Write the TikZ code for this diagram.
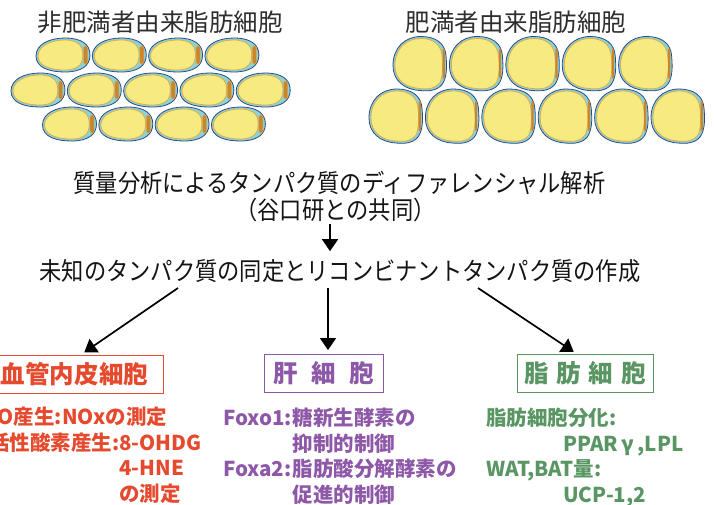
\documentclass[tikz,border=0pt]{standalone}
\usepackage{fontspec}
\usetikzlibrary{arrows.meta,positioning,calc}
\setmainfont{Noto Sans CJK JP}
\newfontfamily\jpnarrow[FakeStretch=0.89]{Noto Sans CJK JP}

\definecolor{cellline}{HTML}{2E4A86}
\definecolor{cellrim}{HTML}{8CD3D4}
\definecolor{yolk}{HTML}{F6EA80}
\definecolor{yolkline}{HTML}{E0A846}
\definecolor{nucleus}{HTML}{C9862C}
\definecolor{endored}{HTML}{E64A2E}
\definecolor{liverpurple}{HTML}{8E58A8}
\definecolor{adipogreen}{HTML}{5A9664}

\tikzset{
  % small (lean) fat cell
  lean/.pic={
    \filldraw[draw=cellline, fill=cellrim, line width=.8pt]
      (-27,1) .. controls (-27,-11) and (-13,-17) .. (2,-17) .. controls (18,-17) and (27,-11) .. (27,0)
      .. controls (27,11) and (18,17) .. (2,17) .. controls (-13,17) and (-27,13) .. (-27,1) -- cycle;
    \filldraw[draw=yolkline, fill=yolk, line width=.7pt]
      (-25,1) .. controls (-25,-9) and (-12,-15) .. (2,-15) .. controls (12,-15) and (18,-11) .. (19,-6)
      .. controls (20,-2) and (20,2) .. (19,6) .. controls (18,11) and (12,15) .. (2,15)
      .. controls (-12,15) and (-25,11) .. (-25,1) -- cycle;
    \filldraw[draw=yolkline, fill=nucleus, rounded corners=2pt] (20.5,-9) rectangle (24.5,9);
  },
  % large (obese) fat cell
  plump/.pic={
    \filldraw[draw=cellline, fill=cellrim, line width=.8pt]
      (-27,2) .. controls (-27,-16) and (-15,-27) .. (1,-27) .. controls (16,-27) and (25,-20) .. (26,-8)
      .. controls (27,4) and (27,14) .. (22,21) .. controls (17,27) and (9,28) .. (0,27)
      .. controls (-16,26) and (-27,17) .. (-27,2) -- cycle;
    \filldraw[draw=yolkline, fill=yolk, line width=.7pt]
      (-25,2) .. controls (-25,-15) and (-14,-25) .. (1,-25) .. controls (13,-25) and (21,-19) .. (22,-8)
      .. controls (23,2) and (23,12) .. (20,19) .. controls (16,25) and (8,26) .. (0,25)
      .. controls (-15,24) and (-25,16) .. (-25,2) -- cycle;
    \fill[nucleus, rounded corners=1pt] (22.6,-15) rectangle (24.8,15);
  },
  title/.style={inner sep=0pt, text=black!82, font=\fontsize{24.5}{28}\selectfont},
  step text/.style={inner sep=0pt, text=black!92, font=\jpnarrow\fontsize{25}{28}\selectfont},
  cellbox/.style={draw=#1, line width=.9pt, text=#1, inner sep=0pt, minimum height=38pt,
    font=\bfseries\fontsize{24.5}{28}\selectfont},
  notes/.style={inner sep=0pt, anchor=north west, align=left, text=#1,
    font=\bfseries\fontsize{20.5}{25.5}\selectfont},
  arr/.style={line width=1.7pt, -{Triangle[length=12pt, width=16pt]}},
}

\begin{document}
\begin{tikzpicture}[x=1pt, y=-1pt]
\useasboundingbox (0,0) rectangle (714,504);

% cells
\foreach \cx in {38,94.3,150.6,206.9,263.2} \pic at (\cx,90) {lean};
\foreach \cx in {63,119.3,175.6,231.9} \pic at (\cx,55) {lean};
\foreach \cx in {69.5,125.8,182.1,238.4} \pic at (\cx,124) {lean};
\foreach \cx in {420,476.4,532.8,589.2,645.6} \pic at (\cx,63.5) {plump};
\foreach \cx in {396,452.4,508.8,565.2,621.6,678} \pic at (\cx,116) {plump};

\node[title] (thin) at (160,22) {非肥満者由来脂肪細胞};
\node[title] (obese) at (516,22) {肥満者由来脂肪細胞};

% proteomics steps
\node[step text] (diff) at (339.5,182.5) {質量分析によるタンパク質のディファレンシャル解析};
\node[step text] (collab) at (335.5,210) {（谷口研との共同）};
\node[step text] (recomb) at (340,271) {未知のタンパク質の同定とリコンビナントタンパク質の作成};

% target cells
\node[cellbox=endored, minimum width=177pt] (endo) at (74.5,374) {血管内皮細胞};
\node[cellbox=liverpurple, minimum width=119pt] (liver) at (323.5,373.5) {肝\hspace{.55em}細\hspace{.55em}胞};
\node[cellbox=adipogreen, minimum width=136pt] (adipo) at (585,373.5) {脂\hspace{.32em}肪\hspace{.32em}細\hspace{.32em}胞};

\coordinate (spine) at (330,0);
\coordinate (lfrom) at (178,288);
\coordinate (mfrom) at (328,288);
\coordinate (rfrom) at (478,288);

\draw[arr, shorten <=2pt, shorten >=8pt] (collab.south -| spine) -- (recomb.north -| spine);
\draw[arr, shorten >=4pt] (lfrom) -- ([xshift=6.5pt]endo.north);
\draw[arr, shorten >=4pt] (mfrom) -- (liver.north -| mfrom);
\draw[arr, shorten >=4pt] (rfrom) -- ([xshift=-8pt]adipo.north);

% what is measured in each cell type
\node[notes=endored] (endonote) at (-11,407) {\hspace*{-7pt}NO産生:NOxの測定\\
  活性酸素産生:8-OHDG\\
  \phantom{活性酸素産生:}4-HNE\\
  \phantom{活性酸素産生:}の測定};
\node[notes=liverpurple] (livernote) at (223,408) {Foxo1:\hspace{1pt}糖新生酵素の\\
  \phantom{Foxo1:}\hspace{1pt}抑制的制御\\
  Foxa2:\hspace{1pt}脂肪酸分解酵素の\\
  \phantom{Foxa2:}\hspace{1pt}促進的制御};
\node[notes=adipogreen] (adiponote) at (486,408) {脂肪細胞分化:\\
  \hspace*{77pt}PPAR\,γ\,,LPL\\
  WAT,BAT量:\\
  \hspace*{77pt}UCP-1,2};
\end{tikzpicture}
\end{document}
